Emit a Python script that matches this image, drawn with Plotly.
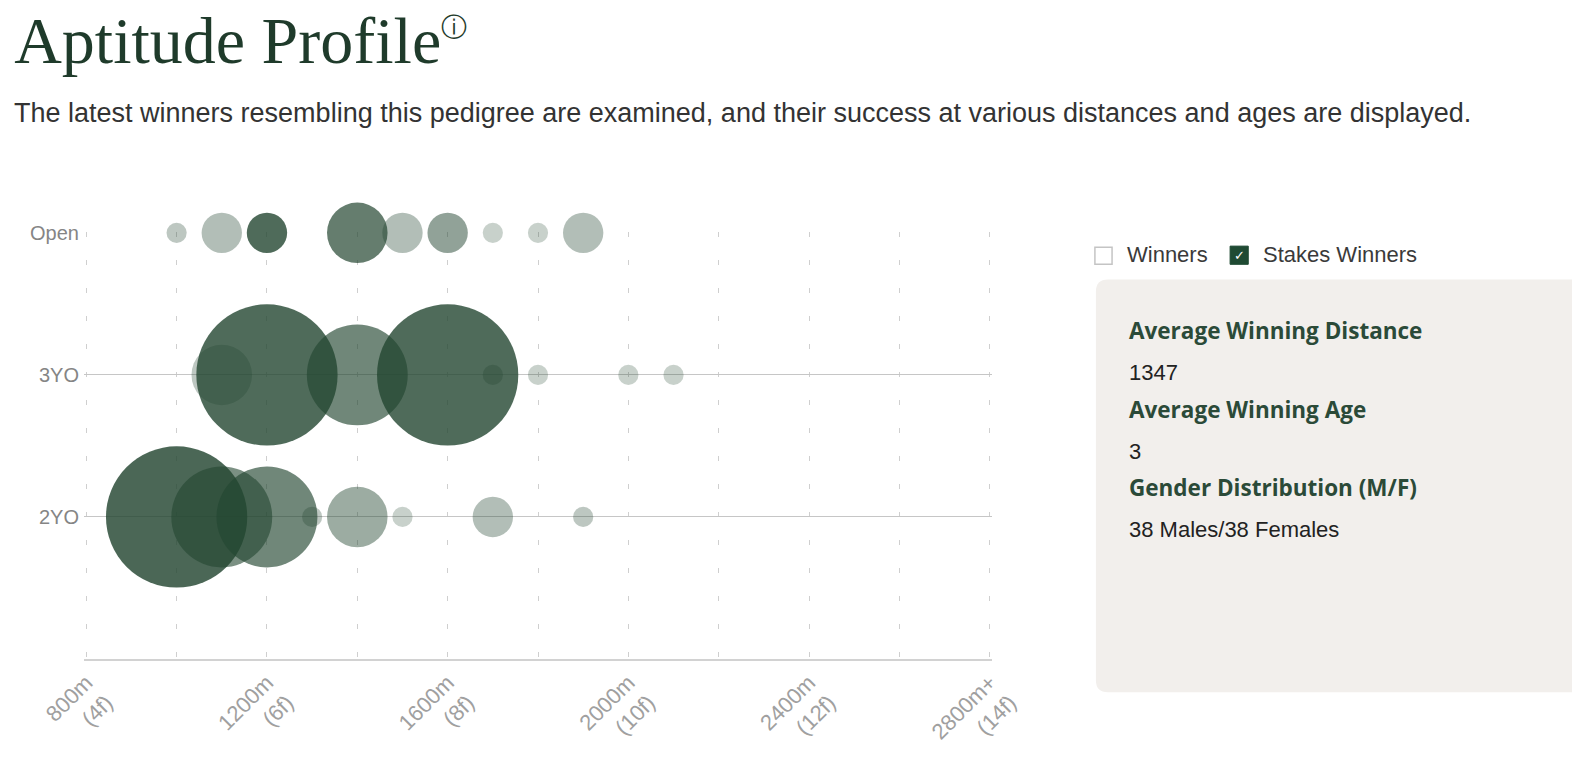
import plotly.graph_objects as go

# distance (m) of each bubble, number of winners, share that are stakes winners
open_dist = [1000, 1100, 1200, 1400, 1500, 1600, 1700, 1800, 1900]
open_count = [1, 2, 2, 3, 2, 2, 1, 1, 2]
open_share = [0.3, 0.35, 0.8, 0.7, 0.35, 0.5, 0.25, 0.25, 0.35]

yo3_dist = [1100, 1200, 1400, 1600, 1700, 1800, 2000, 2100]
yo3_count = [3, 7, 5, 7, 1, 1, 1, 1]
yo3_share = [0.3, 0.8, 0.65, 0.8, 0.3, 0.25, 0.25, 0.25]

yo2_dist = [1000, 1100, 1200, 1300, 1400, 1500, 1700, 1900]
yo2_count = [7, 5, 5, 1, 3, 1, 2, 1]
yo2_share = [0.82, 0.6, 0.65, 0.3, 0.45, 0.25, 0.35, 0.3]

row_labels = ["2YO", "3YO", "Open"]
dist_ticks = [800, 1000, 1200, 1400, 1600, 1800, 2000, 2200, 2400, 2600, 2800]
dist_labels = ["800m<br>(4f)", "", "1200m<br>(6f)", "", "1600m<br>(8f)", "",
               "2000m<br>(10f)", "", "2400m<br>(12f)", "", "2800m+<br>(14f)"]

avg_distance = 1347
avg_age = 3
males, females = 38, 38

green = 'rgb(35,70,49)'
dark_green = '#1f3b2b'

W, H = 1580, 764
OFF = 8      # page body margin the browser adds around the figure
S = 1.009
ML, MT = 83 * S - OFF, 230 * S - OFF
PW, PH = 900 * S, 423 * S
MR, MB = W - ML - PW, H - MT - PH

def px(x):
    return (x * S - OFF - ML) / PW

def py(y):
    return (MT + PH - (y * S - OFF)) / PH

rows = [(open_dist, open_count, open_share), (yo3_dist, yo3_count, yo3_share), (yo2_dist, yo2_count, yo2_share)]
row_y = [3, 2, 1]

fig = go.Figure()
for (d, c, s), yv in zip(rows, row_y):
    fig.add_trace(go.Scatter(x=d, y=[yv] * len(d), mode='markers', cliponaxis=False,
                             marker=dict(size=c, sizemode='diameter', sizeref=1 / (20 * S),
                                         color=green, opacity=s, line=dict(width=0)),
                             hoverinfo='skip'))

fig.update_xaxes(range=[795, 2805], tickvals=dist_ticks, ticktext=dist_labels, tickangle=-45,
                 showgrid=True, gridcolor='#cfcfcf', griddash='5px,23px', gridwidth=1,
                 showline=True, linecolor='#d2d2d2', linewidth=2, zeroline=False, ticks='',
                 automargin=False,
                 tickfont=dict(family='Liberation Sans', size=22, color='#a0a0a0'))
fig.update_yaxes(range=[0, 3.006], tickvals=row_y[::-1], ticktext=row_labels, showgrid=True,
                 gridcolor='#c6c6c6', gridwidth=1, zeroline=False, showline=False, ticks='',
                 ticklabelstandoff=4, automargin=False,
                 tickfont=dict(family='Liberation Sans', size=20, color='#858585'))

shapes = []
# top border of the page
shapes.append(dict(type='line', xref='paper', yref='paper', x0=px(-20), x1=px(W + 20), y0=py(1), y1=py(1),
                   line=dict(color='#8a8f93', width=2)))
# info panel with rounded corners
x0, x1, y0, y1 = px(1086), px(1600), py(686), py(277)
rx, ry = 12 / PW, 12 / PH
path = (f"M {x0 + rx},{y1} L {x1},{y1} L {x1},{y0} L {x0 + rx},{y0} Q {x0},{y0} {x0},{y0 + ry} "
        f"L {x0},{y1 - ry} Q {x0},{y1} {x0 + rx},{y1} Z")
shapes.append(dict(type='path', xref='paper', yref='paper', path=path, fillcolor='#f2efec', line=dict(width=0)))
# checkboxes
shapes.append(dict(type='rect', xref='paper', yref='paper', x0=px(1085), x1=px(1102), y0=py(262), y1=py(245),
                   fillcolor='white', line=dict(color='#c4c4c4', width=1.5)))
shapes.append(dict(type='rect', xref='paper', yref='paper', x0=px(1219), x1=px(1237), y0=py(262), y1=py(244),
                   fillcolor='#1f4a33', line=dict(color='#1f4a33', width=1)))

annotations = []

def note(text, x, y, size, color, family='Liberation Sans'):
    annotations.append(dict(text=text, xref='paper', yref='paper', x=px(x), y=py(y), xanchor='left',
                            yanchor='middle', showarrow=False, font=dict(family=family, size=size, color=color)))

note("The latest winners resembling this pedigree are examined, and their success at various distances and ages are displayed.",
     12, 112, 27, '#333333')
note("Winners", 1115, 252, 22, '#3a3a3a')
note("Stakes Winners", 1250, 252, 22, '#3a3a3a')
annotations.append(dict(text="✓", xref='paper', yref='paper', x=px(1228), y=py(253), xanchor='center',
                        yanchor='middle', showarrow=False, font=dict(family='DejaVu Sans', size=13, color='white')))
note("<b>Average Winning Distance</b>", 1117, 328, 22.5, '#2b4a38', 'Open Sans')
note(str(avg_distance), 1117, 369, 22, '#222222')
note("<b>Average Winning Age</b>", 1117, 406, 22.5, '#2b4a38', 'Open Sans')
note(str(avg_age), 1117, 447, 22, '#222222')
note("<b>Gender Distribution (M/F)</b>", 1117, 483, 22.5, '#2b4a38', 'Open Sans')
note(f"{males} Males/{females} Females", 1117, 525, 22, '#222222')

fig.update_layout(
    width=W, height=H, showlegend=False,
    margin=dict(l=ML, r=MR, t=MT, b=MB, pad=0),
    paper_bgcolor='white', plot_bgcolor='white',
    title=dict(text="Aptitude Profile<sup><span style='font-size:26px'>ⓘ</span></sup>",
               x=(14 * S - OFF) / W, y=1 - (40 * S - OFF) / H, xanchor='left', yanchor='middle',
               font=dict(family='Liberation Serif', size=66, color=dark_green)),
    shapes=shapes, annotations=annotations,
)

fig.write_html("out.html")
